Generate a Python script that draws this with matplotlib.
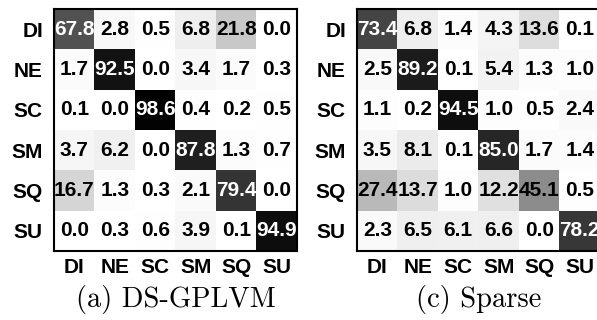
import numpy as np
from matplotlib import pyplot as plt

# Data
classes = ["DI", "NE", "SC", "SM", "SQ", "SU"]
cm_dsgplvm = [
    [67.8, 2.8, 0.5, 6.8, 21.8, 0.0],
    [1.7, 92.5, 0.0, 3.4, 1.7, 0.3],
    [0.1, 0.0, 98.6, 0.4, 0.2, 0.5],
    [3.7, 6.2, 0.0, 87.8, 1.3, 0.7],
    [16.7, 1.3, 0.3, 2.1, 79.4, 0.0],
    [0.0, 0.3, 0.6, 3.9, 0.1, 94.9],
]
cm_sparse = [
    [73.4, 6.8, 1.4, 4.3, 13.6, 0.1],
    [2.5, 89.2, 0.1, 5.4, 1.3, 1.0],
    [1.1, 0.2, 94.5, 1.0, 0.5, 2.4],
    [3.5, 8.1, 0.1, 85.0, 1.7, 1.4],
    [27.4, 13.7, 1.0, 12.2, 45.1, 0.5],
    [2.3, 6.5, 6.1, 6.6, 0.0, 78.2],
]
captions = ["(a) DS-GPLVM", "(c) Sparse"]

fig = plt.figure(figsize=(5.97, 3.2), dpi=100)
lefts = [54 / 597, 357 / 597]

for left, mat, cap in zip(lefts, [cm_dsgplvm, cm_sparse], captions):
    ax = fig.add_axes([left, 69 / 320, 243 / 597, 242 / 320])
    m = np.array(mat)
    ax.imshow(m, cmap="gray_r", vmin=0, vmax=100, aspect="auto")
    for i in range(m.shape[0]):
        for j in range(m.shape[1]):
            v = m[i, j]
            ax.text(j, i, f"{v:.1f}", ha="center", va="center",
                    fontsize=15, fontweight="bold", family="Liberation Sans",
                    color="white" if v > 50 else "black")
    ax.set_xticks(range(len(classes)))
    ax.set_yticks(range(len(classes)))
    ax.set_xticklabels(classes, fontsize=15, fontweight="bold", family="Liberation Sans")
    ax.set_yticklabels(classes, fontsize=15, fontweight="bold", family="Liberation Sans")
    ax.tick_params(axis="x", length=0, pad=5)
    ax.tick_params(axis="y", length=0, pad=8)
    for s in ax.spines.values():
        s.set_linewidth(1.5)
    # caption below the matrix
    ax.text(0.5, -0.2, cap, transform=ax.transAxes, ha="center", va="center",
            fontsize=20.5, family="cmr10")

fig.savefig("out.png", dpi=100)
